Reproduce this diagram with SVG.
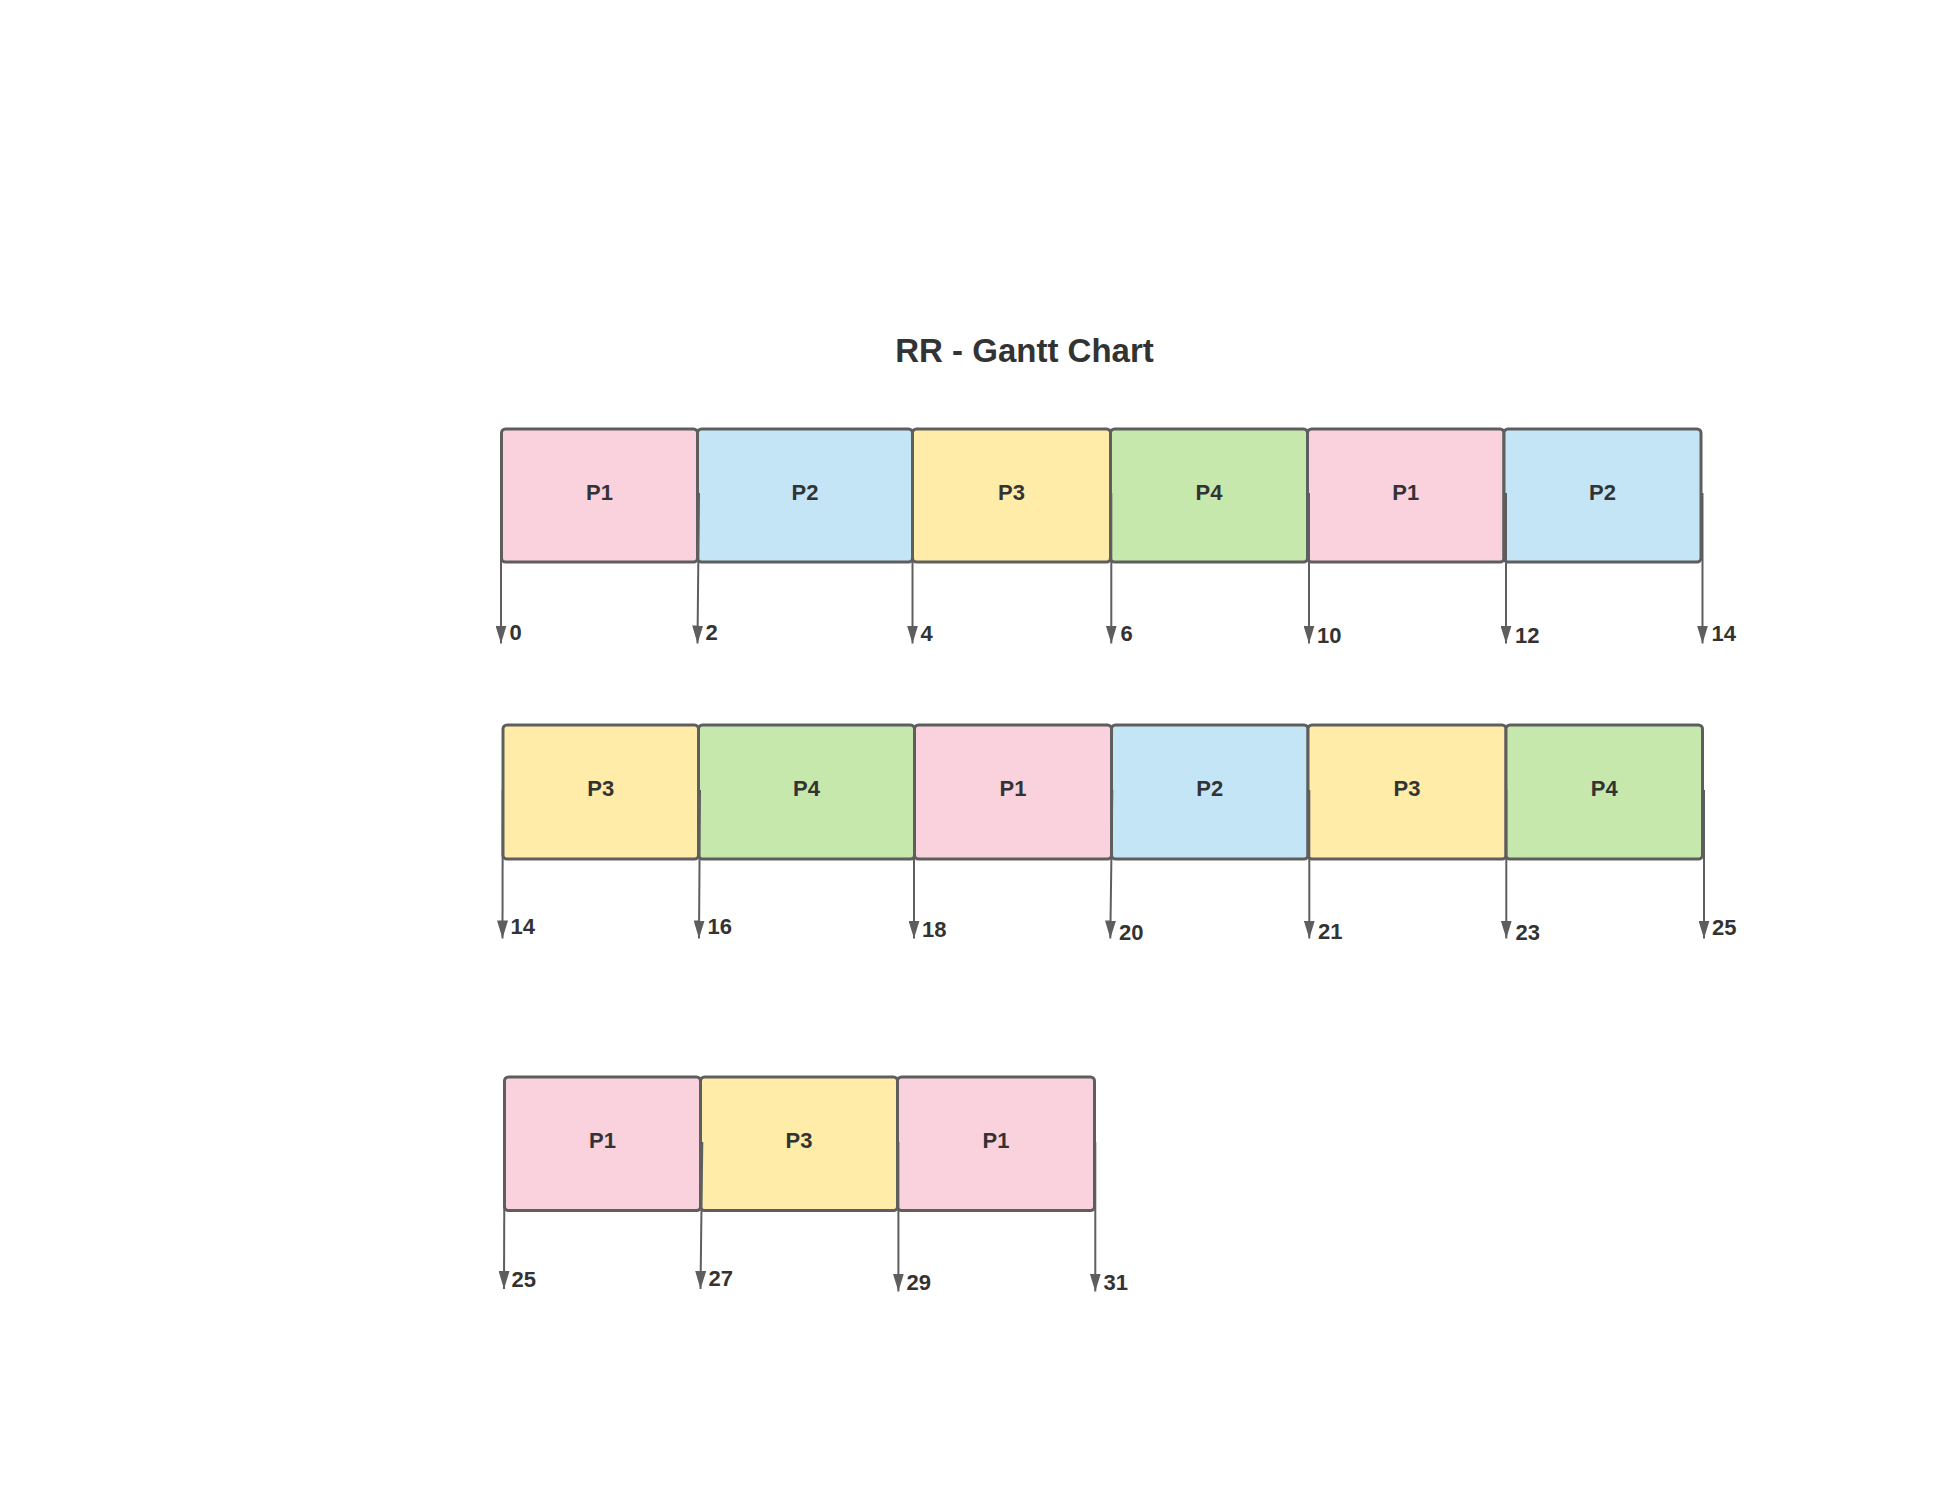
<svg xmlns="http://www.w3.org/2000/svg" width="1934" height="1499" viewBox="0 0 1934 1499">
<defs>
<marker id="ah" markerUnits="userSpaceOnUse" markerWidth="18" markerHeight="11" viewBox="0 -5.5 18 11" refX="18" refY="0" orient="auto">
<path d="M0,-5.5 L18,0 L0,5.5 z" fill="#5e5e5e"/>
</marker>
<style>
.box{stroke:#5e5e5e;stroke-width:3}
.p1{fill:#f9d2de}.p2{fill:#c3e5f6}.p3{fill:#ffeca9}.p4{fill:#c7e8ac}
.lbl{font-family:"Liberation Sans",Arial,sans-serif;font-weight:bold;font-size:22px;fill:#333333;text-anchor:middle}
.num{font-family:"Liberation Sans",Arial,sans-serif;font-weight:bold;font-size:22px;fill:#333333}
.title{font-family:"Liberation Sans",Arial,sans-serif;font-weight:bold;font-size:33px;fill:#333333;text-anchor:middle}
.arr{stroke:#5e5e5e;stroke-width:2;fill:none;marker-end:url(#ah)}
</style>
</defs>
<rect width="1934" height="1499" fill="#ffffff"/>
<text id="title" class="title" x="1024.5" y="362">RR - Gantt Chart</text>

<g id="row1">
<g id="r1-b1"><rect class="box p1" x="501.5" y="429" width="196" height="133" rx="4"/><text class="lbl" x="599.5" y="500">P1</text></g>
<g id="r1-b2"><rect class="box p2" x="697.5" y="429" width="215" height="133" rx="4"/><text class="lbl" x="805" y="500">P2</text></g>
<g id="r1-b3"><rect class="box p3" x="912.5" y="429" width="198" height="133" rx="4"/><text class="lbl" x="1011.5" y="500">P3</text></g>
<g id="r1-b4"><rect class="box p4" x="1110.5" y="429" width="197" height="133" rx="4"/><text class="lbl" x="1209" y="500">P4</text></g>
<g id="r1-b5"><rect class="box p1" x="1307.5" y="429" width="196.5" height="133" rx="4"/><text class="lbl" x="1405.7" y="500">P1</text></g>
<g id="r1-b6"><rect class="box p2" x="1504" y="429" width="197" height="133" rx="4"/><text class="lbl" x="1602.5" y="500">P2</text></g>
</g>

<g id="row2">
<g id="r2-b1"><rect class="box p3" x="503" y="725" width="195.5" height="134" rx="4"/><text class="lbl" x="600.7" y="795.5">P3</text></g>
<g id="r2-b2"><rect class="box p4" x="698.5" y="725" width="216" height="134" rx="4"/><text class="lbl" x="806.5" y="795.5">P4</text></g>
<g id="r2-b3"><rect class="box p1" x="914.5" y="725" width="197" height="134" rx="4"/><text class="lbl" x="1013" y="795.5">P1</text></g>
<g id="r2-b4"><rect class="box p2" x="1111.5" y="725" width="196.5" height="134" rx="4"/><text class="lbl" x="1209.7" y="795.5">P2</text></g>
<g id="r2-b5"><rect class="box p3" x="1308" y="725" width="198" height="134" rx="4"/><text class="lbl" x="1407" y="795.5">P3</text></g>
<g id="r2-b6"><rect class="box p4" x="1506" y="725" width="196.5" height="134" rx="4"/><text class="lbl" x="1604.2" y="795.5">P4</text></g>
</g>

<g id="row3">
<g id="r3-b1"><rect class="box p1" x="504.5" y="1077" width="196" height="133.5" rx="4"/><text class="lbl" x="602.5" y="1147.5">P1</text></g>
<g id="r3-b2"><rect class="box p3" x="700.5" y="1077" width="197" height="133.5" rx="4"/><text class="lbl" x="799" y="1147.5">P3</text></g>
<g id="r3-b3"><rect class="box p1" x="897.5" y="1077" width="197" height="133.5" rx="4"/><text class="lbl" x="996" y="1147.5">P1</text></g>
</g>

<g id="connectors">
<line class="arr" x1="501" y1="493" x2="501" y2="643.5"/>
<line class="arr" x1="699" y1="493" x2="697.5" y2="643.5"/>
<line class="arr" x1="912.5" y1="493" x2="912.5" y2="643.5"/>
<line class="arr" x1="1111.3" y1="493" x2="1111.3" y2="643.5"/>
<line class="arr" x1="1309" y1="493" x2="1309" y2="643.5"/>
<line class="arr" x1="1506" y1="493" x2="1506" y2="643.5"/>
<line class="arr" x1="1702.5" y1="493" x2="1702.5" y2="643.5"/>

<line class="arr" x1="502.7" y1="790" x2="502.5" y2="938.5"/>
<line class="arr" x1="700" y1="790" x2="699" y2="938.5"/>
<line class="arr" x1="914" y1="790" x2="914" y2="938.5"/>
<line class="arr" x1="1112.3" y1="790" x2="1110.3" y2="938.5"/>
<line class="arr" x1="1309.3" y1="790" x2="1309.3" y2="938.5"/>
<line class="arr" x1="1506.3" y1="790" x2="1506.3" y2="938.5"/>
<line class="arr" x1="1704" y1="790" x2="1704" y2="938.5"/>

<line class="arr" x1="504.5" y1="1142" x2="504" y2="1289"/>
<line class="arr" x1="702.3" y1="1142" x2="700.5" y2="1289"/>
<line class="arr" x1="898.4" y1="1142" x2="898.4" y2="1291.5"/>
<line class="arr" x1="1095.3" y1="1142" x2="1095.3" y2="1291.5"/>
</g>

<g id="time-labels">
<text class="num" x="509.5" y="639.5">0</text>
<text class="num" x="705.5" y="640">2</text>
<text class="num" x="920.5" y="640.5">4</text>
<text class="num" x="1120.5" y="641">6</text>
<text class="num" x="1317" y="643">10</text>
<text class="num" x="1515" y="643">12</text>
<text class="num" x="1711.5" y="640.5">14</text>

<text class="num" x="510.5" y="934">14</text>
<text class="num" x="707.5" y="934">16</text>
<text class="num" x="922" y="936.5">18</text>
<text class="num" x="1119" y="940">20</text>
<text class="num" x="1318" y="939">21</text>
<text class="num" x="1515.5" y="939.5">23</text>
<text class="num" x="1712" y="935">25</text>

<text class="num" x="511.5" y="1286.5">25</text>
<text class="num" x="708.5" y="1285.5">27</text>
<text class="num" x="906.5" y="1290">29</text>
<text class="num" x="1103.5" y="1290">31</text>
</g>
</svg>
